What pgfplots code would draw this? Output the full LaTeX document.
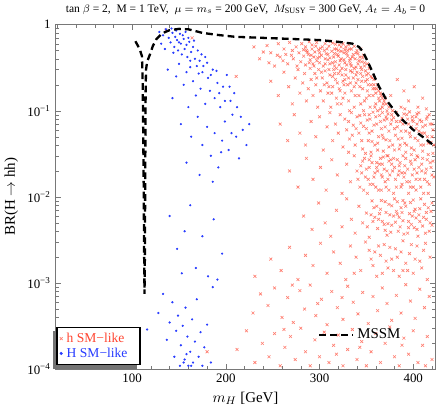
\documentclass[border=0pt]{standalone}
\usepackage{fontspec}
\setmainfont{Liberation Serif}
\usepackage{pgfplots}
\pgfplotsset{compat=1.18}
\usetikzlibrary{calc}
\definecolor{hred}{RGB}{255,70,50}
\definecolor{hblue}{RGB}{40,60,255}
\definecolor{framegray}{RGB}{120,120,120}

\pgfplotsset{bramaxis/.style={
  width=280.5pt, height=254.25pt, scale only axis,
  xmin=18, xmax=424, ymin=1e-4, ymax=1},
  onemark legend/.style={legend image code/.code={\draw[##1] plot coordinates {(0.12cm,0cm)};}}}

\begin{document}
\begin{tikzpicture}
\begin{semilogyaxis}[bramaxis,
  axis line style={framegray},
  tick style={framegray},
  tick align=inside,
  xtick={100,200,300,400},
  minor xtick={20,40,...,420},
  ytick={1e-4,1e-3,1e-2,1e-1,1},
  yticklabels={10\textsuperscript{−4},10\textsuperscript{−3},10\textsuperscript{−2},10\textsuperscript{−1},1},
  major tick length=4pt, minor tick length=2.5pt,
  tick label style={font=\fontsize{9.5}{11}\selectfont},
  /pgf/number format/assume math mode=true,
  xlabel={$m_H$ [GeV]},
  ylabel={BR(H $\to$ hh)},
  label style={font=\fontsize{11}{13}\selectfont},
  title={tan $\beta$ = 2,\ \ M = 1 TeV,\ \ $\mu = m_s$ = 200 GeV,\ \ $M_{\mathrm{SUSY}}$ = 300 GeV, $A_t = A_b$ = 0},
  title style={font=\fontsize{8.5}{10}\selectfont, yshift=-2pt},
  legend cell align=left,
  legend style={name=hleg, at={(0.003,0.012)}, anchor=south west, draw=black, line width=0.9pt,
    fill=white, font=\fontsize{10}{11}\selectfont, inner sep=2pt, row sep=-1.5pt, column sep=1pt},
]
% h SM-like
\addplot[only marks, mark=x, mark size=1.5pt, color=hred, mark options={line width=0.45pt}, opacity=0.7,
  onemark legend] coordinates {
(230,0.55)(244,0.57)(248,0.47)(256,0.6)(262,0.52)(268,0.62)(275,0.55)(281,0.6)(286,0.5)(292,0.58)(297,0.62)(301,0.53)(306,0.6)(310,0.56)(314,0.61)(318,0.52)(321,0.58)(325,0.6)(328,0.55)(331,0.58)(334,0.52)(337,0.56)(340,0.5)(312,0.64)(289,0.63)(323,0.49)(300,0.47)(264,0.45)(136,0.86)(164,0.70)(255,0.44)(240,0.48)
(236,0.4)(246,0.36)(252,0.33)(258,0.42)(261,0.38)(266,0.35)(270,0.44)(272,0.4)(276,0.33)(278,0.47)(280,0.37)(283,0.43)(285,0.34)(288,0.45)(290,0.39)(293,0.35)(295,0.48)(298,0.41)(300,0.36)(302,0.44)(304,0.33)(307,0.46)(309,0.39)(311,0.35)(313,0.49)(315,0.42)(317,0.37)(319,0.45)(321,0.34)(323,0.4)(326,0.47)(327,0.36)(330,0.43)(332,0.38)(334,0.33)(336,0.45)(338,0.4)(341,0.35)(343,0.42)(345,0.37)(348,0.33)(347,0.44)(316,0.52)(305,0.5)(327,0.51)(292,0.52)(283,0.51)
(302,0.28)(306,0.4)(310,0.3)(314,0.25)(316,0.33)(319,0.21)(322,0.38)(324,0.26)(326,0.2)(329,0.34)(331,0.24)(333,0.4)(335,0.28)(337,0.19)(339,0.32)(341,0.23)(344,0.27)(346,0.18)(348,0.36)(350,0.26)(352,0.2)(353,0.15)(356,0.24)(359,0.18)(362,0.2)(364,0.13)(366,0.15)(368,0.12)(370,0.14)(313,0.16)(319,0.12)(325,0.14)(332,0.1)(338,0.15)(344,0.12)(350,0.14)(305,0.2)(297,0.24)(289,0.36)(294,0.42)(299,0.51)(309,0.45)(320,0.43)(330,0.5)(341,0.46)(344,0.52)(317,0.59)(296,0.56)(285,0.55)(271,0.5)
(287,0.48)(291,0.44)(294,0.33)(297,0.38)(300,0.42)(303,0.55)(306,0.35)(308,0.52)(311,0.41)(314,0.36)(316,0.46)(318,0.31)(320,0.5)(322,0.29)(323,0.55)(326,0.39)(328,0.3)(329,0.46)(332,0.52)(333,0.35)(335,0.42)(337,0.31)(339,0.47)(342,0.38)(344,0.32)(346,0.41)(349,0.29)(351,0.35)(353,0.31)(355,0.25)(358,0.2)(360,0.16)(310,0.19)(316,0.27)(322,0.17)(327,0.23)(333,0.21)(339,0.26)(345,0.22)(351,0.23)(357,0.18)(363,0.17)(367,0.14)(371,0.12)(374,0.11)
(211,0.25)(248,0.22)(256,0.15)(262,0.28)(267,0.19)(271,0.12)(274,0.24)(277,0.3)(279,0.16)(282,0.21)(284,0.27)(286,0.13)(288,0.18)(290,0.31)(291,0.23)(293,0.15)(295,0.27)(296,0.2)(298,0.11)(299,0.3)(301,0.17)(303,0.24)(304,0.13)(306,0.29)(308,0.21)(309,0.16)(311,0.26)(312,0.11)(314,0.19)(315,0.3)(317,0.23)(318,0.14)(320,0.27)(321,0.18)(323,0.12)(324,0.31)(325,0.22)(327,0.16)(328,0.26)(330,0.2)(331,0.13)(333,0.29)(334,0.17)(336,0.24)(337,0.11)(339,0.21)(340,0.28)(342,0.15)(343,0.19)(345,0.3)(346,0.25)(348,0.13)(349,0.22)(351,0.17)(352,0.27)(354,0.11)(355,0.2)(357,0.15)(358,0.23)(360,0.12)(361,0.18)(363,0.14)(365,0.16)(367,0.11)(369,0.13)(372,0.1)(383,0.23)(390,0.17)(395,0.13)(401,0.19)(405,0.11)(410,0.14)(414,0.105)(387,0.11)(376,0.15)
(347,0.1)(353,0.09)(359,0.11)(365,0.105)(371,0.085)(377,0.078)(382,0.095)(388,0.082)(393,0.09)(399,0.078)(404,0.092)(409,0.075)(415,0.085)(420,0.07)
(258,0.07)(266,0.045)(273,0.09)(279,0.055)(285,0.04)(291,0.075)(296,0.05)(300,0.085)(304,0.035)(308,0.065)(311,0.095)(314,0.045)(317,0.07)(320,0.055)(322,0.09)(325,0.038)(327,0.08)(329,0.06)(332,0.047)(334,0.095)(336,0.068)(338,0.04)(340,0.085)(342,0.055)(344,0.072)(346,0.036)(348,0.09)(350,0.062)(352,0.045)(354,0.08)(356,0.058)(357,0.096)(359,0.04)(361,0.07)(363,0.05)(364,0.088)(366,0.062)(368,0.034)(369,0.078)(371,0.046)(373,0.092)(374,0.058)(376,0.07)(378,0.04)(379,0.083)(381,0.052)(383,0.065)(385,0.036)(386,0.075)(388,0.048)(390,0.092)(392,0.058)(393,0.04)(395,0.07)(397,0.05)(399,0.085)(401,0.035)(403,0.062)(405,0.045)(407,0.078)(409,0.055)(411,0.04)(413,0.068)(415,0.05)(417,0.09)(419,0.043)(421,0.06)(396,0.097)(406,0.095)(372,0.03)(355,0.033)(331,0.033)
(331,0.075)(335,0.052)(339,0.062)(343,0.088)(347,0.066)(351,0.078)(353,0.055)(358,0.068)(360,0.085)(362,0.042)(365,0.075)(367,0.052)(370,0.065)(372,0.08)(375,0.045)(377,0.09)(380,0.062)(382,0.075)(384,0.047)(387,0.058)(389,0.07)(391,0.042)(394,0.08)(396,0.055)(398,0.065)(400,0.075)(402,0.048)(404,0.07)(406,0.058)(408,0.04)(410,0.065)(412,0.055)(414,0.08)(416,0.042)(418,0.07)(420,0.05)(422,0.04)(367,0.095)(378,0.1)(391,0.105)(403,0.085)(362,0.1)
(345,0.045)(349,0.032)(356,0.044)(362,0.035)(368,0.048)(374,0.038)(380,0.035)(386,0.04)(392,0.033)(398,0.037)(404,0.03)(410,0.034)(416,0.031)(421,0.032)
(268,0.02)(277,0.013)(286,0.028)(293,0.016)(301,0.022)(307,0.012)(313,0.027)(319,0.018)(324,0.011)(329,0.024)(333,0.015)(337,0.03)(340,0.02)(343,0.013)(346,0.026)(349,0.017)(351,0.011)(353,0.022)(355,0.03)(357,0.014)(359,0.019)(361,0.025)(363,0.012)(365,0.028)(367,0.017)(369,0.021)(371,0.013)(373,0.03)(375,0.018)(377,0.024)(379,0.011)(381,0.016)(383,0.027)(385,0.02)(387,0.013)(389,0.03)(391,0.023)(393,0.015)(395,0.011)(397,0.026)(399,0.018)(401,0.021)(403,0.012)(405,0.029)(407,0.016)(409,0.024)(411,0.011)(413,0.019)(415,0.027)(417,0.014)(419,0.022)(422,0.017)(352,0.016)(374,0.026)(388,0.019)(366,0.012)(398,0.031)(344,0.023)
(341,0.016)(345,0.019)(348,0.028)(350,0.021)(354,0.014)(356,0.025)(358,0.017)(360,0.013)(362,0.02)(364,0.024)(366,0.018)(368,0.029)(370,0.015)(372,0.02)(374,0.012)(376,0.027)(378,0.02)(380,0.022)(382,0.013)(384,0.018)(386,0.025)(388,0.014)(390,0.017)(392,0.028)(394,0.021)(396,0.015)(398,0.024)(400,0.013)(402,0.027)(404,0.019)(406,0.022)(408,0.013)(410,0.028)(412,0.016)(414,0.021)(416,0.011)(418,0.025)(420,0.018)
(347,0.012)(353,0.027)(361,0.022)(367,0.024)(373,0.016)(379,0.028)(385,0.023)(391,0.019)(397,0.013)(403,0.016)(409,0.02)(415,0.015)(421,0.026)
(283,0.006)(292,0.0042)(299,0.0085)(306,0.005)(312,0.0035)(318,0.007)(324,0.0045)(329,0.0095)(334,0.0055)(338,0.0038)(342,0.0078)(346,0.005)(350,0.0065)(353,0.0034)(356,0.009)(359,0.0058)(362,0.0043)(365,0.0072)(367,0.0052)(370,0.0088)(372,0.0036)(375,0.0062)(377,0.0047)(380,0.0095)(382,0.0068)(384,0.004)(387,0.0075)(389,0.0053)(391,0.0085)(394,0.0038)(396,0.0064)(398,0.0048)(400,0.0092)(403,0.0057)(405,0.0035)(407,0.0073)(410,0.0046)(412,0.0082)(414,0.0055)(417,0.004)(419,0.0068)(361,0.0078)(385,0.0058)(401,0.0044)(373,0.0049)
(351,0.0045)(355,0.0062)(358,0.0075)(363,0.0055)(366,0.0091)(369,0.0048)(371,0.0066)(374,0.0082)(376,0.0039)(379,0.006)(381,0.0051)(383,0.0088)(386,0.0045)(388,0.0066)(390,0.0037)(392,0.0078)(395,0.0052)(397,0.0086)(399,0.006)(402,0.0072)(404,0.0042)(406,0.0062)(408,0.0095)(411,0.0058)(413,0.0038)(416,0.0075)(418,0.005)(420,0.0085)
(357,0.0052)(364,0.0064)(370,0.0041)(377,0.0079)(383,0.0063)(389,0.0091)(395,0.0044)(401,0.0068)(407,0.0052)(414,0.0066)(420,0.0047)
(231,0.0012)(248,0.0019)(259,0.0014)(268,0.0026)(277,0.0011)(285,0.0021)(293,0.0016)(301,0.0029)(308,0.0013)(315,0.0023)(322,0.0017)(328,0.0011)(333,0.0027)(339,0.002)(344,0.0014)(349,0.003)(353,0.0024)(357,0.0016)(361,0.0012)(365,0.0021)(369,0.0028)(373,0.0015)(377,0.0019)(381,0.0025)(385,0.0012)(389,0.0031)(392,0.0017)(396,0.0022)(400,0.0013)(404,0.0027)(407,0.0018)(411,0.0024)(415,0.0011)(389,0.0014)(363,0.0027)(337,0.0013)
(355,0.0019)(359,0.0023)(367,0.0013)(371,0.0018)(375,0.0026)(379,0.0014)(383,0.002)(387,0.0023)(394,0.0014)(398,0.0028)(402,0.0019)(409,0.0015)(413,0.0029)(418,0.002)
(237,0.00075)(229,0.00045)(245,0.00055)(252,0.00088)(260,0.0004)(266,0.00068)(272,0.00035)(279,0.00082)(284,0.0005)(290,0.00095)(296,0.00042)(302,0.00065)(308,0.00033)(313,0.0008)(319,0.00052)(325,0.00038)(330,0.00092)(336,0.0006)(341,0.00044)(346,0.00078)(352,0.00034)(357,0.0007)(362,0.00048)(367,0.00088)(372,0.00058)(377,0.00037)(382,0.00072)(387,0.00045)(392,0.00096)(397,0.00062)(402,0.00039)(407,0.00085)(412,0.00052)(417,0.0007)(324,0.00068)(298,0.00058)(271,0.00095)
(180,0.00016)(212,0.00017)(222,0.00028)(231,0.00012)(239,0.0002)(246,0.00014)(252,0.00026)(258,0.00011)(263,0.00018)(269,0.00024)(274,0.00013)(280,0.0003)(285,0.00016)(290,0.00011)(295,0.00022)(300,0.00014)(305,0.00027)(310,0.00012)(315,0.00019)(320,0.00025)(325,0.00011)(330,0.00017)(335,0.00029)(340,0.00013)(345,0.00021)(350,0.00011)(355,0.00016)(360,0.00026)(365,0.00012)(370,0.0002)(375,0.00031)(380,0.00014)(385,0.00011)(390,0.00023)(395,0.00015)(400,0.00028)(405,0.00012)(410,0.00019)(415,0.00024)(420,0.00013)(262,0.00029)(318,0.00015)(343,0.00018)(388,0.00019)(413,0.00011)
};
\addlegendentry{\makebox[50pt][l]{\textcolor{hred}{h SM−like}}}
% H SM-like
\addplot[only marks, mark=*, mark size=0.6pt, color=hblue, onemark legend] coordinates {
(129,0.82)(133,0.75)(136,0.88)(139,0.7)(141,0.62)(143,0.8)(145,0.55)(146,0.72)(148,0.66)(149,0.5)(151,0.78)(152,0.6)(153,0.45)(155,0.68)(156,0.52)(158,0.58)(159,0.42)(161,0.63)(163,0.48)(165,0.55)(167,0.4)(144,0.47)(170,0.5)(174,0.45)(178,0.42)
(131,0.6)(135,0.52)(142,0.9)(147,0.85)(150,0.62)(154,0.75)(157,0.82)(160,0.7)(162,0.38)(166,0.65)(169,0.33)(172,0.38)(175,0.28)(180,0.36)(184,0.26)(190,0.29)(193,0.16)(199,0.13)(204,0.19)(212,0.11)(216,0.085)(206,0.055)(195,0.033)
(138,0.3)(147,0.25)(150,0.35)(155,0.2)(158,0.28)(162,0.32)(165,0.22)(168,0.15)(171,0.27)(173,0.18)(176,0.33)(178,0.12)(181,0.24)(183,0.17)(186,0.3)(188,0.14)(191,0.21)(194,0.11)(197,0.19)(201,0.26)(205,0.13)(209,0.16)(160,0.11)(143,0.14)
(152,0.07)(163,0.05)(170,0.085)(175,0.04)(180,0.065)(184,0.03)(188,0.055)(192,0.022)(196,0.045)(199,0.075)(203,0.035)(207,0.09)(211,0.05)(214,0.028)(218,0.06)(222,0.04)(225,0.07)(186,0.015)(172,0.018)(158,0.025)
(140,0.006)(148,0.0025)(156,0.004)(162,0.008)(168,0.0015)(175,0.0035)(181,0.0012)(187,0.0055)(191,0.0011)(196,0.0022)(153,0.0013)
(116,0.00029)(128,0.00045)(133,0.00075)(137,0.00022)(140,0.00035)(143,0.0006)(145,0.00014)(147,0.00028)(149,0.00042)(151,0.00011)(152,0.00019)(154,0.00032)(156,0.00013)(157,0.00052)(159,0.00024)(160,0.00011)(162,0.00016)(164,0.00038)(165,0.00012)(167,0.00021)(169,0.00065)(171,0.00014)(173,0.00027)(175,0.00011)(177,0.00018)(180,0.00033)(184,0.00012)(186,0.0009)(155,0.00012)(158,0.00015)(163,0.00011)
};
\addlegendentry{\makebox[50pt][l]{\textcolor{hblue}{H SM−like}}}
\end{semilogyaxis}

% shadow of the legend box (left and bottom strips)
\fill[black!55] ($(hleg.south west)+(-2.3pt,-3pt)$) rectangle ($(hleg.south east)+(-2.3pt,0pt)$);
\fill[black!55] ($(hleg.south west)+(-2.3pt,-3pt)$) rectangle ($(hleg.north west)+(0pt,-3pt)$);

% MSSM curve, drawn over the scatter with its own legend
\begin{semilogyaxis}[bramaxis, hide axis,
  legend style={at={(0.68,0.1)}, anchor=west, draw=none, fill=none,
    font=\fontsize{11}{12}\selectfont},
  legend image code/.code={\draw[#1] (0cm,0cm) -- (0.88cm,0cm);},
]
\addplot[black, line width=1.7pt, dash pattern=on 5pt off 3pt] coordinates {
(103.5,0.64)(106,0.57)(108.5,0.5)(110.5,0.43)(111.3,0.2)(112.2,0.02)(112.8,0.002)(113.2,0.00075)
(113.6,0.002)(114,0.02)(114.4,0.17)(114.8,0.3)(116,0.37)(119,0.45)(122,0.56)(126,0.68)(132,0.79)
(140,0.86)(150,0.89)(160,0.88)(175,0.8)(190,0.76)(210,0.72)(240,0.7)(270,0.68)(300,0.66)(320,0.63)
(335,0.6)(342,0.55)(346,0.49)(350,0.4)(356,0.29)(363,0.195)(372,0.13)(385,0.085)(400,0.06)(412,0.048)(424,0.038)
};
\addlegendentry{MSSM}
\end{semilogyaxis}
\end{tikzpicture}
\end{document}
